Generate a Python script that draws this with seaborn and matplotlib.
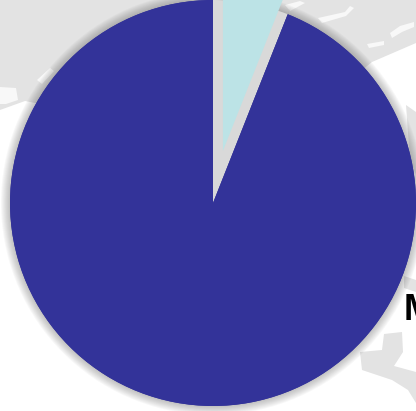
import numpy as np
import pandas as pd
import seaborn as sns
import matplotlib.pyplot as plt
from matplotlib.patches import Polygon

sns.set_style("white")

SHARES = [6, 94]
COLORS = ["#bce3e6", "#333399"]
EXPLODE = [53, 0]

# pixel layout of the reference
W, H = 416, 411
CX, CY = 213, 208
R = 203

# map behind the pie, in pixels from the top left
LAND = [
    [(0, 0), (290, 0), (416, 0), (416, 43), (372, 62), (300, 120), (120, 120), (25, 101), (0, 110)],
    [(404, 276), (416, 280), (416, 292), (404, 288)],
    [(384, 334), (402, 332), (403, 352), (394, 366), (416, 372), (416, 403), (408, 390), (392, 380), (362, 370), (360, 352), (382, 350)],
    [(406, 105), (416, 112), (416, 175), (410, 160)],
]
GAPS = [
    [(0, 87), (16, 88), (18, 100), (6, 104), (0, 104)],
    [(37, 80), (50, 68), (54, 71), (42, 84)],
    [(390, 33), (400, 26), (414, 22), (414, 27), (402, 32), (392, 38)],
    [(367, 44), (384, 41), (384, 45), (369, 48)],
    [(318, 18), (345, 12), (350, 6), (354, 8), (346, 16), (322, 23)],
    [(285, 5), (300, 1), (305, 3), (290, 11)],
]

df = pd.DataFrame({"share": SHARES, "color": COLORS, "explode": EXPLODE})

fig = plt.figure(figsize=(W / 100, H / 100), dpi=100)
ax = fig.add_axes([0, 0, 1, 1])

for shape in LAND:
    ax.add_patch(Polygon([(x, H - y) for x, y in shape], color="#e3e3e3", lw=0, zorder=0))
for shape in GAPS:
    ax.add_patch(Polygon([(x, H - y) for x, y in shape], color="#f8f8f8", lw=0, zorder=0))

# soft shadow, stacked translucent pies
for grow in np.arange(9, 0, -1):
    ax.pie(
        df["share"],
        colors=["#555555", "#555555"],
        startangle=90,
        counterclock=False,
        center=(CX, CY),
        radius=R + grow,
        wedgeprops={"alpha": 0.045, "lw": 0},
    )

# grey left behind where the light slice was pulled out
ax.pie(
    df["share"],
    colors=["#d9d9d9", "#333399"],
    startangle=90,
    counterclock=False,
    center=(CX, CY),
    radius=R,
    wedgeprops={"lw": 0},
)

ax.pie(
    df["share"],
    explode=df["explode"],
    colors=df["color"],
    startangle=90,
    counterclock=False,
    center=(CX, CY),
    radius=R,
    wedgeprops={"lw": 0},
)

ax.text(404, H - 311, "M", fontsize=26, fontweight="bold", color="black",
        family="Liberation Sans", va="center", ha="left", clip_on=True)

ax.set_xlim(0, W)
ax.set_ylim(0, H)
ax.set_aspect("equal")
ax.axis("off")

fig.savefig("out.png", dpi=100)
